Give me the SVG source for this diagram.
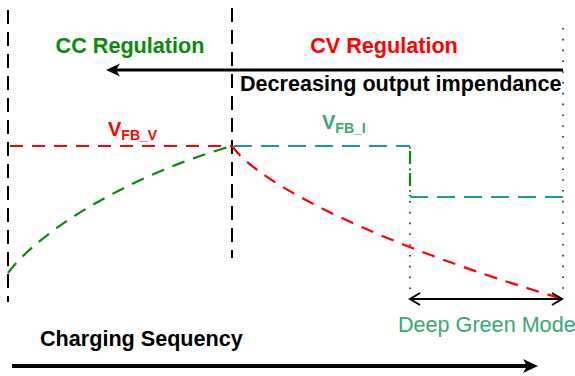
<svg xmlns="http://www.w3.org/2000/svg" width="575" height="376" viewBox="0 0 575 376">
<style>
  .t{font-family:"Liberation Sans",Arial,sans-serif}
  .b{font-weight:bold}
  .vdash{stroke:#000;stroke-width:2;stroke-dasharray:14 8;fill:none}
  .dot{stroke:#222;stroke-width:1.6;stroke-dasharray:1.6 9.2;fill:none}
  .red{stroke:#ff0000;stroke-width:2.2;stroke-dasharray:13 9;fill:none}
  .teal{stroke:#1b9a9a;stroke-width:2.2;stroke-dasharray:18 9;fill:none}
  .grn{stroke:#0a8a0a;stroke-width:2.2;stroke-dasharray:13 9;fill:none}
</style>
<rect width="575" height="376" fill="#fff"/>
<g id="connectors">
  <line class="vdash" x1="8" y1="10" x2="8" y2="302"/>
  <line class="vdash" x1="232" y1="8" x2="232" y2="258"/>
  <line class="dot" x1="563" y1="28" x2="563" y2="292"/>
  <line class="dot" x1="410" y1="147" x2="410" y2="292"/>
  <line class="red" x1="10" y1="146" x2="232" y2="146"/>
  <line class="teal" x1="234" y1="146" x2="410" y2="146"/>
  <line class="grn" x1="410" y1="151" x2="410" y2="196" stroke-dasharray="17 8"/>
  <line class="teal" x1="410" y1="197" x2="563" y2="197"/>
  <path class="grn" d="M8,273 C40,230 130,175 232,146"/>
  <path class="red" d="M232,146 C260,185 380,245 563,299"/>
  <line x1="114" y1="70" x2="563" y2="70" stroke="#000" stroke-width="3"/>
  <path d="M106,70 L120,63.5 L116,70 L120,76.5 Z" fill="#000"/>
  <line x1="410" y1="299" x2="562" y2="299" stroke="#000" stroke-width="2"/>
  <path d="M420,293 L410,299 L420,305" fill="none" stroke="#000" stroke-width="2"/>
  <path d="M552,293 L562,299 L552,305" fill="none" stroke="#000" stroke-width="2"/>
  <line x1="12" y1="366" x2="528" y2="366" stroke="#000" stroke-width="4"/>
  <path d="M538,366 L523,359 L527,366 L523,373 Z" fill="#000"/>
</g>
<g id="cc-label"><text class="t b" x="130" y="53" font-size="21.6" fill="#0a8a0a" text-anchor="middle">CC Regulation</text></g>
<g id="cv-label"><text class="t b" x="384" y="53" font-size="21.6" fill="#ff0000" text-anchor="middle">CV Regulation</text></g>
<g id="decreasing-label"><text class="t b" x="240" y="91" font-size="21.6" fill="#000">Decreasing output impendance</text></g>
<g id="vfbv-label"><text class="t b" x="108" y="136" font-size="20" fill="#ff0000">V<tspan font-size="14" dy="4">FB_V</tspan></text></g>
<g id="vfbi-label"><text class="t b" x="322" y="129" font-size="20" fill="#3aa876">V<tspan font-size="14" dy="4">FB_I</tspan></text></g>
<g id="deep-green-label"><text class="t" x="398" y="332" font-size="21.6" fill="#3aa876">Deep Green Mode</text></g>
<g id="charging-label"><text class="t b" x="40" y="346" font-size="21.6" fill="#000">Charging Sequency</text></g>
</svg>
